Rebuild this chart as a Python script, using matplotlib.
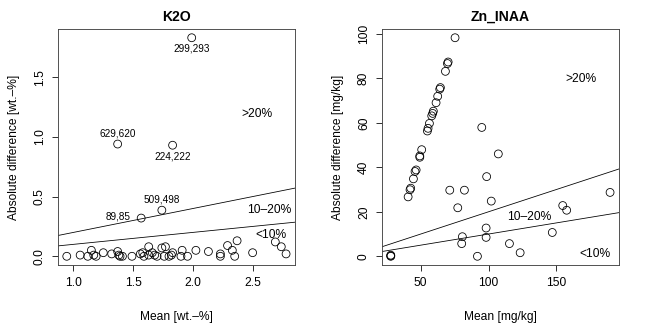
import matplotlib
matplotlib.use("Agg")
import matplotlib.pyplot as plt

plt.rcParams['font.family'] = ['Liberation Sans', 'DejaVu Sans']

# K2O: mean vs absolute difference of duplicate pairs
k2o_mean = [1.99, 1.37, 1.83, 1.74, 1.567,
            0.944, 1.056, 1.12, 1.15, 1.17, 1.19, 1.25, 1.32, 1.37, 1.38, 1.39,
            1.41, 1.49, 1.56, 1.58, 1.59, 1.63, 1.63, 1.66, 1.68, 1.70, 1.74,
            1.77, 1.76, 1.80, 1.82, 1.83, 1.90, 1.91, 1.955, 2.025, 2.13, 2.23,
            2.23, 2.29, 2.33, 2.35, 2.37, 2.50, 2.69, 2.74, 2.78]
k2o_diff = [1.83, 0.94, 0.93, 0.386, 0.32,
            0.0, 0.01, 0.0, 0.05, 0.01, 0.0, 0.03, 0.02, 0.04, 0.01, 0.0,
            0.0, 0.0, 0.02, 0.03, 0.0, 0.08, 0.01, 0.03, 0.01, 0.0, 0.07,
            0.08, 0.0, 0.0, 0.01, 0.03, 0.0, 0.05, 0.0, 0.05, 0.04, 0.02,
            0.0, 0.09, 0.05, 0.0, 0.13, 0.03, 0.12, 0.08, 0.02]
# labelled outliers: (index, text, placement)
k2o_labels = [(0, "299,293", "below"), (1, "629,620", "above"),
              (2, "224,222", "below"), (3, "509,498", "above"),
              (4, "89,85", "left")]

zn_mean = [27.9, 27.9, 27.9, 75.3, 69.7, 70.2, 68.2, 64.5, 64.0, 62.5, 61.3,
           59.3, 58.8, 58.1, 56.4, 55.4, 54.9, 50.7, 49.3, 49.3, 46.6, 45.8,
           44.6, 42.6, 42.1, 40.7, 71.4, 82.2, 77.3, 95.0, 107.2, 98.6, 102.0,
           80.7, 80.2, 98.2, 98.2, 91.8, 115.4, 123.3, 147.0, 154.7, 157.6, 189.6]
zn_diff = [0.0, 0.5, 0.2, 98.2, 86.6, 87.3, 83.1, 75.8, 75.1, 71.9, 69.0,
           65.2, 64.2, 63.1, 59.7, 57.5, 56.3, 47.9, 45.1, 44.5, 38.8, 38.1,
           34.8, 30.6, 29.9, 26.7, 29.7, 29.7, 21.8, 57.9, 46.0, 35.8, 24.8,
           8.8, 5.7, 12.7, 8.5, 0.0, 5.7, 1.6, 10.7, 22.8, 20.7, 28.7]

region_slopes = [0.1, 0.2]


def r_limits(vals):
    lo, hi = min(vals), max(vals)
    pad = 0.04 * (hi - lo)
    return lo - pad, hi + pad


def panel(ax, x, y, title, unit, xticks, yticks, region_pos):
    ax.scatter(x, y, s=62, facecolors='none', edgecolors='black', linewidths=0.8, zorder=3)
    for s in region_slopes:
        ax.axline((0, 0), slope=s, color='black', lw=0.8)
    ax.set_xlim(r_limits(x))
    ax.set_ylim(r_limits(y))
    ax.set_xticks(xticks)
    ax.set_yticks(yticks)
    ax.tick_params(direction='out', length=6, width=0.8, labelsize=12, pad=6)
    for sp in ax.spines.values():
        sp.set_linewidth(0.9)
        sp.set_color('#444444')
    ax.set_title(title, fontsize=14, fontweight='bold', pad=8)
    ax.set_xlabel("Mean " + unit, fontsize=12, labelpad=22)
    ax.set_ylabel("Absolute difference " + unit, fontsize=12, labelpad=14)
    for (tx, ty, txt) in region_pos:
        ax.text(tx, ty, txt, fontsize=12, ha='center', va='center')


fig = plt.figure(figsize=(9, 4.5), dpi=72)
ax1 = fig.add_axes([0.0895, 0.182, 0.3655, 0.7285])
ax2 = fig.add_axes([0.5895, 0.182, 0.3655, 0.7285])

panel(ax1, k2o_mean, k2o_diff, "K2O", "[wt.\u2013%]", [1.0, 1.5, 2.0, 2.5],
      [0.0, 0.5, 1.0, 1.5],
      [(2.54, 1.19, ">20%"), (2.64, 0.39, "10\u201320%"), (2.65, 0.18, "<10%")])
ax1.set_yticklabels(["0.0", "0.5", "1.0", "1.5"])
ax1.set_xticklabels(["1.0", "1.5", "2.0", "2.5"])

for i, txt, where in k2o_labels:
    off = {"below": (0, -11), "above": (0, 11), "left": (-23, 2)}[where]
    ax1.annotate(txt, (k2o_mean[i], k2o_diff[i]), xytext=off, textcoords='offset points',
                 ha='center', va='center', fontsize=10)

panel(ax2, zn_mean, zn_diff, "Zn_INAA", "[mg/kg]", [50, 100, 150],
      [0, 20, 40, 60, 80, 100],
      [(168.4, 79.7, ">20%"), (129.9, 17.6, "10\u201320%"), (178.3, 1.2, "<10%")])

for ax in (ax1, ax2):
    for lab in ax.get_yticklabels():
        lab.set_rotation(90)
        lab.set_va('center')

fig.savefig("out.png", dpi=72)
